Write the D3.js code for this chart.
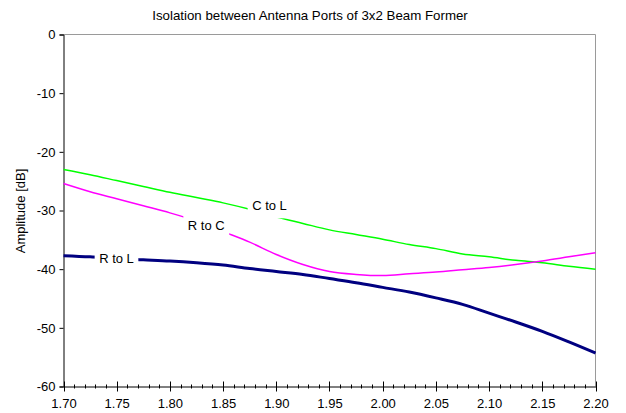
<!DOCTYPE html>
<html>
<head>
<meta charset="utf-8">
<script src="https://cdn.jsdelivr.net/npm/d3@7"></script>
<style>
  html, body { margin: 0; padding: 0; background: #fff; }
  svg { display: block; font-family: "Liberation Sans", Arial, sans-serif; }
</style>
</head>
<body>
<svg id="chart" width="626" height="413"></svg>
<script>
// Frequency (GHz) sample points shared by all three curves
const freqs = [1.700, 1.725, 1.750, 1.775, 1.800, 1.825, 1.850, 1.875, 1.900, 1.925, 1.950,
               1.975, 2.000, 2.025, 2.050, 2.075, 2.100, 2.125, 2.150, 2.175, 2.200];

// Isolation in dB for each port pair
const cToL = [-23.0, -23.9, -24.9, -25.9, -26.9, -27.8, -28.7, -29.8, -31.1, -32.2, -33.3,
              -34.1, -34.9, -35.8, -36.5, -37.4, -37.9, -38.5, -38.9, -39.5, -40.0];
const rToC = [-25.4, -26.8, -28.0, -29.2, -30.4, -31.8, -33.6, -35.4, -37.5, -39.2, -40.4,
              -40.9, -41.1, -40.8, -40.5, -40.1, -39.7, -39.2, -38.6, -37.9, -37.2];
const rToL = [-37.7, -37.9, -38.2, -38.4, -38.6, -38.9, -39.3, -39.9, -40.4, -40.9, -41.6,
              -42.3, -43.1, -43.9, -44.9, -46.0, -47.5, -49.0, -50.6, -52.4, -54.3];

const seriesNames = ["C to L", "R to C", "R to L"];
const xTicks = [1.70, 1.75, 1.80, 1.85, 1.90, 1.95, 2.00, 2.05, 2.10, 2.15, 2.20];
const yTicks = [0, -10, -20, -30, -40, -50, -60];

const svg = d3.select("#chart");
const plotLeft = 63.5, plotRight = 595.5, plotTop = 34.5, plotBottom = 386.5;

const x = d3.scaleLinear().domain([1.70, 2.20]).range([plotLeft, plotRight]);
const y = d3.scaleLinear().domain([-60, 0]).range([plotBottom, plotTop]);

// Title
svg.append("text")
  .attr("x", 310).attr("y", 19.5)
  .attr("text-anchor", "middle")
  .attr("font-size", 13.3)
  .attr("fill", "#000")
  .text("Isolation between Antenna Ports of 3x2 Beam Former");

// Plot frame: grey top and right edges
svg.append("path")
  .attr("d", `M${plotLeft},${plotTop}H${plotRight}V${plotBottom}`)
  .attr("fill", "none").attr("stroke", "#9a9a9a").attr("stroke-width", 1);

// Y axis
const yAxis = d3.axisLeft(y).tickValues(yTicks).tickSize(4).tickPadding(4)
  .tickFormat(d3.format("d"));
const gy = svg.append("g").attr("transform", `translate(${plotLeft},0)`).call(yAxis);
gy.select(".domain").attr("stroke", "#000");
gy.selectAll("text").attr("font-size", 13).attr("font-family", "Liberation Sans, Arial, sans-serif")
  .text(d => d === 0 ? "0" : "-" + Math.abs(d));

// X axis: minor ticks every 0.01 crossing the axis, major ticks every 0.05
const minor = d3.range(0, 51).map(i => 1.70 + i * 0.01).filter((v, i) => i % 5 !== 0);
const gx = svg.append("g").attr("transform", `translate(0,${plotBottom})`);
gx.selectAll("line.minor").data(minor).join("line")
  .attr("class", "minor")
  .attr("x1", d => Math.round(x(d)) + 0.5).attr("x2", d => Math.round(x(d)) + 0.5)
  .attr("y1", -2).attr("y2", 2).attr("stroke", "#000");
gx.selectAll("line.major").data(xTicks).join("line")
  .attr("class", "major")
  .attr("x1", d => Math.round(x(d)) + 0.5).attr("x2", d => Math.round(x(d)) + 0.5)
  .attr("y1", -5).attr("y2", 5).attr("stroke", "#000");
const xAxis = d3.axisBottom(x).tickValues(xTicks).tickSize(0).tickPadding(12)
  .tickFormat(d3.format(".2f"));
gx.call(xAxis);
gx.select(".domain").attr("stroke", "#000");
gx.selectAll("text").attr("font-size", 13).attr("font-family", "Liberation Sans, Arial, sans-serif");

// Y axis title
svg.append("text")
  .attr("transform", `translate(25,211) rotate(-90)`)
  .attr("text-anchor", "middle")
  .attr("font-size", 13)
  .text("Amplitude [dB]");

// Curves
const line = d3.line().x((d, i) => x(freqs[i])).y(d => y(d)).curve(d3.curveMonotoneX);
const series = [
  { name: seriesNames[0], values: cToL, color: "#00ff00", width: 1.5 },
  { name: seriesNames[1], values: rToC, color: "#ff00ff", width: 1.5 },
  { name: seriesNames[2], values: rToL, color: "#000080", width: 3 }
];
svg.append("g").selectAll("path").data(series).join("path")
  .attr("d", s => line(s.values))
  .attr("fill", "none")
  .attr("stroke", s => s.color)
  .attr("stroke-width", s => s.width)
  .attr("stroke-linejoin", "round");

// In-plot labels on white boxes that break the curves
const labels = [
  { text: seriesNames[0], f: 1.8936, v: -29.2 },
  { text: seriesNames[1], f: 1.8342, v: -32.55 },
  { text: seriesNames[2], f: 1.7498, v: -38.2 }
];
const lg = svg.append("g");
labels.forEach(l => {
  const g = lg.append("g").attr("transform", `translate(${x(l.f)},${y(l.v)})`);
  const t = g.append("text")
    .attr("text-anchor", "middle").attr("dy", "0.35em")
    .attr("font-size", 13).text(l.text);
  const bb = t.node().getBBox();
  g.insert("rect", "text")
    .attr("x", bb.x - 4.5).attr("y", bb.y - 5)
    .attr("width", bb.width + 9).attr("height", bb.height + 10)
    .attr("fill", "#fff");
});
</script>
</body>
</html>
